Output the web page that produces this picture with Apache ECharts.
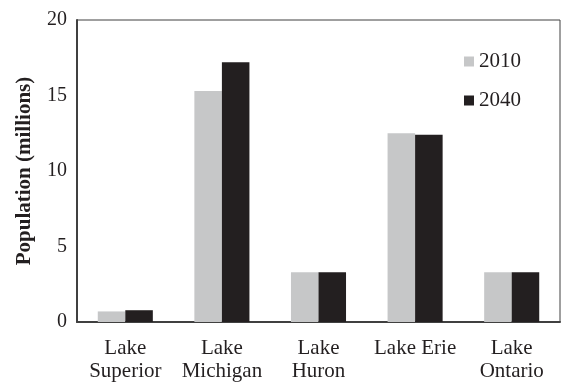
<!DOCTYPE html>
<html>
<head>
<meta charset="utf-8">
<script src="https://cdn.jsdelivr.net/npm/echarts@6/dist/echarts.min.js"></script>
<style>html,body{margin:0;padding:0;background:#fff}#c{width:562px;height:384px}</style>
</head>
<body>
<div id="c"></div>
<script>
const categories = ['Lake\nSuperior', 'Lake\nMichigan', 'Lake\nHuron', 'Lake Erie', 'Lake\nOntario'];
const values2010 = [0.7, 15.3, 3.3, 12.5, 3.3];
const values2040 = [0.78, 17.2, 3.3, 12.4, 3.3];
const yTicks = { min: 0, max: 20, interval: 5 };

const font = '"Liberation Serif", "Times New Roman", serif';
const chart = echarts.init(document.getElementById('c'));
chart.setOption({
  animation: false,
  textStyle: { fontFamily: font },
  grid: { left: 77, right: 2, top: 20, bottom: 62, show: true, borderColor: '#404040', borderWidth: 1, backgroundColor: 'transparent' },
  legend: {
    orient: 'vertical', left: 459, top: 46, itemWidth: 10, itemHeight: 10, itemGap: 18,
    icon: 'rect',
    textStyle: { fontFamily: font, fontSize: 21, color: '#231f20' },
    data: ['2010', '2040']
  },
  xAxis: {
    type: 'category', data: categories,
    axisLine: { lineStyle: { color: '#404040', width: 2 } },
    axisTick: { show: false },
    axisLabel: { interval: 0, hideOverlap: false, fontFamily: font, fontSize: 21, color: '#231f20', lineHeight: 23, margin: 15 }
  },
  yAxis: {
    type: 'value', min: yTicks.min, max: yTicks.max, interval: yTicks.interval,
    name: 'Population (millions)', nameLocation: 'middle', nameGap: 42,
    nameTextStyle: { fontFamily: font, fontSize: 21, fontWeight: 'bold', color: '#231f20' },
    axisLine: { show: true, lineStyle: { color: '#404040', width: 2 } },
    axisTick: { show: false },
    splitLine: { show: false },
    axisLabel: { fontFamily: font, fontSize: 20, color: '#231f20', margin: 10 }
  },
  series: [
    { name: '2010', type: 'bar', data: values2010, barGap: 0, barCategoryGap: '43%', itemStyle: { color: '#c6c7c8' } },
    { name: '2040', type: 'bar', data: values2040, barGap: 0, barCategoryGap: '43%', itemStyle: { color: '#231f20' } }
  ]
});
</script>
</body>
</html>
